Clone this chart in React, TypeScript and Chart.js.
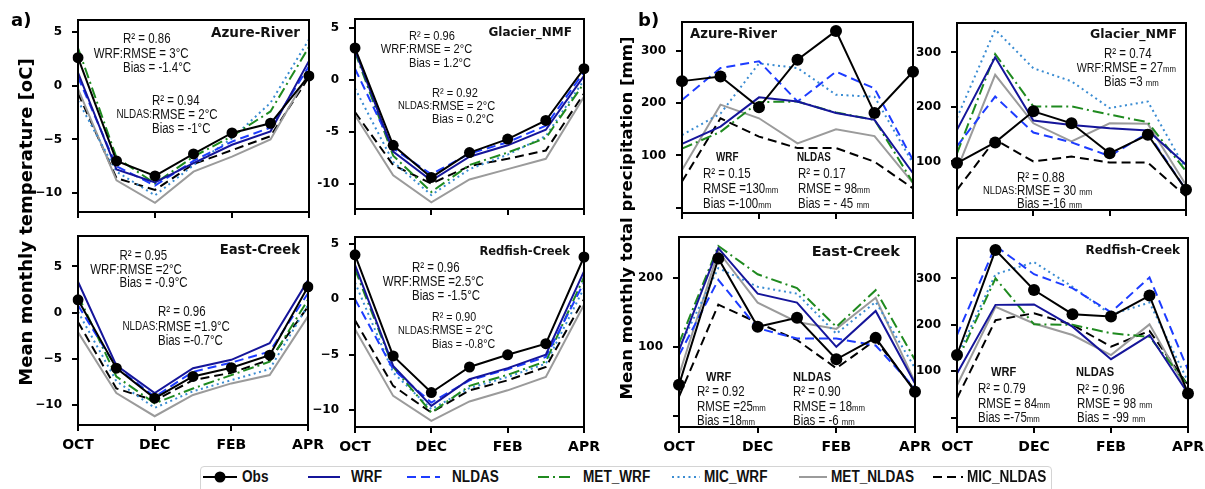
import React, { useEffect, useRef } from 'react';
import { Chart, registerables } from 'chart.js';
Chart.register(...registerables);

// ---------- categories / ticks ----------
const MONTHS = ['OCT', 'NOV', 'DEC', 'JAN', 'FEB', 'MAR', 'APR'];
const SERIES = ['Obs', 'WRF', 'NLDAS', 'MET_WRF', 'MIC_WRF', 'MET_NLDAS', 'MIC_NLDAS'];
const TEMP_TICKS = [-10, -5, 0, 5];
const PRECIP_TICKS = [0, 100, 200, 300];

// ---------- a) temperature [oC] ----------
const azureT_Obs = [2.6, -7.0, -8.4, -6.35, -4.4, -3.5, 0.9];
const azureT_WRF = [1.2, -7.8, -9.0, -7.2, -5.5, -4.25, 2.3];
const azureT_NLDAS = [0.8, -7.5, -9.3, -7.0, -5.2, -3.9, 1.8];
const azureT_MET_WRF = [3.5, -6.7, -9.1, -6.6, -4.7, -2.4, 3.6];
const azureT_MIC_WRF = [-1.4, -8.0, -10.2, -7.4, -4.9, -1.6, 4.3];
const azureT_MET_NLDAS = [-0.3, -8.8, -10.9, -8.0, -6.6, -5.0, 1.2];
const azureT_MIC_NLDAS = [-0.7, -8.6, -9.7, -7.3, -6.0, -4.7, 0.8];

const glacierT_Obs = [3.1, -6.3, -9.4, -7.0, -5.7, -3.9, 1.1];
const glacierT_WRF = [2.9, -6.9, -9.7, -7.4, -6.3, -4.8, 0.4];
const glacierT_NLDAS = [1.1, -6.6, -9.1, -7.1, -6.0, -4.4, 0.8];
const glacierT_MET_WRF = [2.7, -7.3, -10.8, -8.2, -7.0, -5.6, -0.3];
const glacierT_MIC_WRF = [-0.8, -7.9, -11.1, -8.6, -7.2, -5.4, 0.0];
const glacierT_MET_NLDAS = [-3.4, -9.2, -11.8, -9.6, -8.6, -7.6, -1.6];
const glacierT_MIC_NLDAS = [-3.1, -8.2, -10.0, -8.3, -7.6, -6.8, -1.3];

const eastT_Obs = [1.4, -6.0, -9.25, -6.9, -5.95, -4.6, 2.8];
const eastT_WRF = [3.35, -5.7, -8.7, -6.0, -5.1, -3.3, 3.5];
const eastT_NLDAS = [0.8, -5.9, -9.1, -6.4, -5.4, -4.2, 2.1];
const eastT_MET_WRF = [1.9, -6.9, -9.8, -8.2, -6.75, -5.3, 1.4];
const eastT_MIC_WRF = [0.1, -7.4, -10.3, -8.5, -7.3, -6.1, 0.8];
const eastT_MET_NLDAS = [-2.1, -8.7, -11.2, -8.9, -7.65, -6.75, -0.4];
const eastT_MIC_NLDAS = [-1.0, -8.2, -9.5, -7.3, -6.5, -5.1, 0.65];

const redfishT_Obs = [4.0, -5.1, -8.4, -6.1, -5.0, -4.0, 3.8];
const redfishT_WRF = [3.1, -6.0, -9.6, -7.2, -6.2, -5.0, 2.5];
const redfishT_NLDAS = [0.0, -6.3, -9.3, -7.3, -6.3, -5.2, 1.5];
const redfishT_MET_WRF = [2.7, -6.1, -10.2, -7.8, -6.8, -5.6, 2.0];
const redfishT_MIC_WRF = [1.5, -6.6, -9.9, -8.0, -7.0, -5.8, 1.0];
const redfishT_MET_NLDAS = [-2.7, -8.7, -10.95, -9.2, -8.2, -7.0, -0.5];
const redfishT_MIC_NLDAS = [-1.9, -7.8, -10.2, -8.2, -7.3, -6.1, 0.0];

// ---------- b) precipitation [mm] ----------
const azureP_Obs = [242, 251, 192, 283, 338, 181, 260];
const azureP_WRF = [122, 155, 211, 203, 181, 168, 66];
const azureP_NLDAS = [206, 267, 280, 203, 260, 228, 91];
const azureP_MET_WRF = [113, 145, 202, 203, 182, 168, 48];
const azureP_MIC_WRF = [139, 180, 276, 267, 216, 212, 85];
const azureP_MET_NLDAS = [72, 197, 171, 123, 150, 137, 47];
const azureP_MIC_NLDAS = [50, 171, 136, 114, 114, 88, 37];

const glacierP_Obs = [97, 135, 192, 170, 115, 149, 48];
const glacierP_WRF = [158, 291, 175, 167, 161, 157, 94];
const glacierP_NLDAS = [128, 219, 153, 135, 110, 152, 48];
const glacierP_MET_WRF = [115, 297, 201, 201, 186, 172, 82];
const glacierP_MIC_WRF = [180, 342, 271, 247, 198, 210, 85];
const glacierP_MET_NLDAS = [85, 259, 170, 137, 170, 169, 57];
const glacierP_MIC_NLDAS = [48, 140, 100, 109, 98, 98, 36];

const eastP_Obs = [45, 228, 129, 142, 82, 113, 35];
const eastP_WRF = [95, 243, 177, 164, 100, 152, 47];
const eastP_NLDAS = [88, 197, 127, 112, 112, 102, 40];
const eastP_MET_WRF = [105, 246, 205, 185, 129, 182, 81];
const eastP_MIC_WRF = [98, 214, 187, 177, 119, 165, 69];
const eastP_MET_NLDAS = [59, 238, 164, 136, 126, 171, 49];
const eastP_MIC_NLDAS = [28, 161, 135, 110, 69, 110, 37];

const redfishP_Obs = [135, 361, 275, 223, 218, 263, 52];
const redfishP_WRF = [95, 243, 244, 196, 126, 178, 52];
const redfishP_NLDAS = [178, 370, 309, 279, 227, 302, 103];
const redfishP_MET_WRF = [121, 300, 201, 200, 182, 174, 70];
const redfishP_MIC_WRF = [131, 309, 335, 282, 222, 248, 78];
const redfishP_MET_NLDAS = [70, 239, 203, 178, 135, 201, 56];
const redfishP_MIC_NLDAS = [42, 210, 225, 200, 153, 187, 70];

// ---------- styles ----------
const STYLE: Record<string, { color: string; dash: number[] }> = {
  Obs: { color: '#000000', dash: [] },
  WRF: { color: '#15159a', dash: [] },
  NLDAS: { color: '#1d3cff', dash: [9, 5] },
  MET_WRF: { color: '#1f8a1f', dash: [11, 4, 2, 4] },
  MIC_WRF: { color: '#3a8cd2', dash: [2, 3.5] },
  MET_NLDAS: { color: '#9b9b9b', dash: [] },
  MIC_NLDAS: { color: '#000000', dash: [9, 5] },
};

const TICK_FONT = '"DejaVu Sans", sans-serif';
const NARROW_FONT = '"Liberation Sans", Arial, sans-serif';
const NARROW = 0.82;

type Block = {
  x: number; y: number; dy: number; lines: string[]; size?: number;
  prefix?: string; prefixSize?: number; header?: string; hx?: number; hy?: number; hsize?: number;
};
type Panel = {
  id: string; left: number; top: number; right: number; bottom: number;
  yMin: number; yMax: number; yTicks: number[]; showX: boolean; precip: boolean; minus: string;
  series: number[][]; markerR: number;
  title: string; titleX: number; titleY: number; titleAlign: 'left' | 'right'; titleSize: number;
  blocks: Block[];
};

const PANELS: Panel[] = [
  {
    id: 'a1', left: 78, top: 20, right: 309, bottom: 212, yMin: -11.75, yMax: 6.1, yTicks: TEMP_TICKS,
    showX: false, precip: false, minus: '\u2212', markerR: 5.5,
    series: [azureT_Obs, azureT_WRF, azureT_NLDAS, azureT_MET_WRF, azureT_MIC_WRF, azureT_MET_NLDAS, azureT_MIC_NLDAS],
    title: 'Azure-River', titleX: 222, titleY: 13, titleAlign: 'right', titleSize: 13.5,
    blocks: [
      { x: 45, y: 18, dy: 14.5, lines: ['R\u00b2 = 0.86', 'RMSE = 3\u00b0C', 'Bias = -1.4\u00b0C'], prefix: 'WRF:' },
      { x: 74, y: 80, dy: 14, lines: ['R\u00b2 = 0.94', 'RMSE = 2\u00b0C', 'Bias = -1\u00b0C'], prefix: 'NLDAS:', prefixSize: 12 },
    ],
  },
  {
    id: 'a2', left: 355, top: 19, right: 584, bottom: 208.5, yMin: -12.45, yMax: 5.9, yTicks: TEMP_TICKS,
    showX: false, precip: false, minus: '-', markerR: 5.5,
    series: [glacierT_Obs, glacierT_WRF, glacierT_NLDAS, glacierT_MET_WRF, glacierT_MIC_WRF, glacierT_MET_NLDAS, glacierT_MIC_NLDAS],
    title: 'Glacier_NMF', titleX: 217, titleY: 14, titleAlign: 'right', titleSize: 12,
    blocks: [
      { x: 54, y: 16, dy: 13.5, size: 13.5, lines: ['R\u00b2 = 0.96', 'RMSE = 2\u00b0C', 'Bias = 1.2\u00b0C'], prefix: 'WRF:' },
      { x: 77, y: 73, dy: 13, size: 13.5, lines: ['R\u00b2 = 0.92', 'RMSE = 2\u00b0C', 'Bias = 0.2\u00b0C'], prefix: 'NLDAS:', prefixSize: 11.5 },
    ],
  },
  {
    id: 'a3', left: 78, top: 236, right: 308, bottom: 425, yMin: -12.15, yMax: 8.3, yTicks: TEMP_TICKS,
    showX: true, precip: false, minus: '\u2212', markerR: 5.5,
    series: [eastT_Obs, eastT_WRF, eastT_NLDAS, eastT_MET_WRF, eastT_MIC_WRF, eastT_MET_NLDAS, eastT_MIC_NLDAS],
    title: 'East-Creek', titleX: 222, titleY: 15, titleAlign: 'right', titleSize: 13.2,
    blocks: [
      { x: 41.5, y: 19, dy: 13.5, lines: ['R\u00b2 = 0.95', 'RMSE =2\u00b0C', 'Bias = -0.9\u00b0C'], prefix: 'WRF:' },
      { x: 80, y: 75, dy: 14.5, lines: ['R\u00b2 = 0.96', 'RMSE =1.9\u00b0C', 'Bias =-0.7\u00b0C'], prefix: 'NLDAS:', prefixSize: 12 },
    ],
  },
  {
    id: 'a4', left: 355, top: 237, right: 584, bottom: 427, yMin: -11.5, yMax: 5.6, yTicks: TEMP_TICKS,
    showX: true, precip: false, minus: '\u2212', markerR: 5.5,
    series: [redfishT_Obs, redfishT_WRF, redfishT_NLDAS, redfishT_MET_WRF, redfishT_MIC_WRF, redfishT_MET_NLDAS, redfishT_MIC_NLDAS],
    title: 'Redfish-Creek', titleX: 215, titleY: 15, titleAlign: 'right', titleSize: 11.5,
    blocks: [
      { x: 57, y: 30, dy: 14, lines: ['R\u00b2 = 0.96', 'RMSE =2.5\u00b0C', 'Bias = -1.5\u00b0C'], prefix: 'WRF:' },
      { x: 77, y: 79, dy: 13.5, size: 13, lines: ['R\u00b2 = 0.90', 'RMSE = 2\u00b0C', 'Bias = -0.8\u00b0C'], prefix: 'NLDAS:', prefixSize: 11.5 },
    ],
  },
  {
    id: 'b1', left: 682, top: 22, right: 913, bottom: 213, yMin: -10, yMax: 355, yTicks: PRECIP_TICKS,
    showX: false, precip: true, minus: '\u2212', markerR: 6,
    series: [azureP_Obs, azureP_WRF, azureP_NLDAS, azureP_MET_WRF, azureP_MIC_WRF, azureP_MET_NLDAS, azureP_MIC_NLDAS],
    title: 'Azure-River', titleX: 8, titleY: 13, titleAlign: 'left', titleSize: 13.2,
    blocks: [
      { x: 21, y: 151, dy: 15, lines: ['R\u00b2 = 0.15', 'RMSE =130|mm', 'Bias =-100|mm'], header: 'WRF', hx: 34, hy: 135, hsize: 12 },
      { x: 116, y: 151, dy: 15, lines: ['R\u00b2 = 0.17', 'RMSE = 98|mm', 'Bias = - 45 |mm'], header: 'NLDAS', hx: 115, hy: 135, hsize: 12 },
    ],
  },
  {
    id: 'b2', left: 957, top: 23, right: 1186, bottom: 210, yMin: 11, yMax: 354, yTicks: PRECIP_TICKS,
    showX: false, precip: true, minus: '\u2212', markerR: 6,
    series: [glacierP_Obs, glacierP_WRF, glacierP_NLDAS, glacierP_MET_WRF, glacierP_MIC_WRF, glacierP_MET_NLDAS, glacierP_MIC_NLDAS],
    title: 'Glacier_NMF', titleX: 220, titleY: 12, titleAlign: 'right', titleSize: 12.5,
    blocks: [
      { x: 147, y: 30, dy: 14, lines: ['R\u00b2 = 0.74', 'RMSE = 27|mm', 'Bias =3 |mm'], prefix: 'WRF:', prefixSize: 13 },
      { x: 60, y: 154, dy: 13, lines: ['R\u00b2 = 0.88', 'RMSE = 30 |mm', 'Bias =-16 |mm'], prefix: 'NLDAS:', prefixSize: 11.5 },
    ],
  },
  {
    id: 'b3', left: 679, top: 237, right: 915, bottom: 427, yMin: -16, yMax: 259, yTicks: PRECIP_TICKS,
    showX: true, precip: true, minus: '\u2212', markerR: 6,
    series: [eastP_Obs, eastP_WRF, eastP_NLDAS, eastP_MET_WRF, eastP_MIC_WRF, eastP_MET_NLDAS, eastP_MIC_NLDAS],
    title: 'East-Creek', titleX: 221, titleY: 15, titleAlign: 'right', titleSize: 14.5,
    blocks: [
      { x: 18, y: 154, dy: 14.5, lines: ['R\u00b2 = 0.92', 'RMSE =25|mm', 'Bias =18|mm'], header: 'WRF', hx: 27, hy: 139, hsize: 13.5 },
      { x: 114, y: 154, dy: 14.5, lines: ['R\u00b2 = 0.90', 'RMSE = 18|mm', 'Bias = -6 |mm'], header: 'NLDAS', hx: 114, hy: 139, hsize: 13.5 },
    ],
  },
  {
    id: 'b4', left: 957, top: 238, right: 1188, bottom: 427, yMin: -20, yMax: 387, yTicks: PRECIP_TICKS,
    showX: true, precip: true, minus: '\u2212', markerR: 6,
    series: [redfishP_Obs, redfishP_WRF, redfishP_NLDAS, redfishP_MET_WRF, redfishP_MIC_WRF, redfishP_MET_NLDAS, redfishP_MIC_NLDAS],
    title: 'Redfish-Creek', titleX: 223, titleY: 13, titleAlign: 'right', titleSize: 12,
    blocks: [
      { x: 21, y: 150, dy: 14.5, lines: ['R\u00b2 = 0.79', 'RMSE = 84|mm', 'Bias =-75|mm'], header: 'WRF', hx: 34, hy: 133, hsize: 13.5 },
      { x: 120, y: 151, dy: 14, lines: ['R\u00b2 = 0.96', 'RMSE = 98 |mm', 'Bias = -99 |mm'], header: 'NLDAS', hx: 119, hy: 133, hsize: 13.5 },
    ],
  },
];

// draw text with "|small|" segments, horizontally condensed; y = visual center of caps
function drawRich(ctx: CanvasRenderingContext2D, text: string, x: number, y: number, size: number, align: 'left' | 'right', weight = 'normal') {
  const parts = text.split('|');
  const fonts = parts.map((_, i) => `${weight} ${i % 2 ? size * 0.68 : size}px ${NARROW_FONT}`);
  const widths = parts.map((t, i) => { ctx.font = fonts[i]; return ctx.measureText(t).width * NARROW; });
  const total = widths.reduce((a, b) => a + b, 0);
  let cx = align === 'right' ? x - total : x;
  const base = y + size * 0.36;
  ctx.textBaseline = 'alphabetic';
  ctx.textAlign = 'left';
  parts.forEach((t, i) => {
    ctx.font = fonts[i];
    ctx.save();
    ctx.translate(cx, base);
    ctx.scale(NARROW, 1);
    ctx.fillText(t, 0, 0);
    ctx.restore();
    cx += widths[i];
  });
}

function makeOverlay(p: Panel) {
  return {
    id: 'overlay_' + p.id,
    afterDraw(chart: any) {
      const { ctx, chartArea: a } = chart;
      ctx.save();
      ctx.fillStyle = '#111';
      p.blocks.forEach((b) => {
        const size = b.size || 14;
        b.lines.forEach((ln, i) => drawRich(ctx, ln, a.left + b.x, a.top + b.y + i * b.dy, size, 'left'));
        if (b.prefix) drawRich(ctx, b.prefix, a.left + b.x, a.top + b.y + b.dy, b.prefixSize || size, 'right');
        if (b.header) drawRich(ctx, b.header, a.left + (b.hx || 0), a.top + (b.hy || 0), b.hsize || 12, 'left', 'bold');
      });
      ctx.fillStyle = '#111';
      ctx.font = `bold ${p.titleSize}px ${TICK_FONT}`;
      ctx.textAlign = p.titleAlign;
      ctx.textBaseline = 'middle';
      ctx.fillText(p.title, a.left + p.titleX, a.top + p.titleY);
      ctx.strokeStyle = '#000';
      ctx.lineWidth = 2;
      ctx.strokeRect(a.left, a.top, a.right - a.left, a.bottom - a.top);
      ctx.restore();
    },
  };
}

function PanelChart({ p }: { p: Panel }) {
  const ref = useRef<HTMLCanvasElement>(null);
  const LP = 56, TP = 6, RP = 24, BP = p.showX ? 32 : 12;
  const W = Math.round(p.right - p.left) + LP + RP;
  const H = Math.round(p.bottom - p.top) + TP + BP;
  useEffect(() => {
    const grid = { display: true, drawOnChartArea: false, drawTicks: true, tickLength: 6, lineWidth: 2, color: '#000' };
    const chart = new Chart(ref.current as HTMLCanvasElement, {
      type: 'line',
      data: {
        labels: MONTHS,
        datasets: SERIES.map((name, i) => ({
          label: name,
          data: p.series[i],
          borderColor: STYLE[name].color,
          backgroundColor: STYLE[name].color,
          borderWidth: 2,
          borderDash: STYLE[name].dash,
          pointRadius: name === 'Obs' ? p.markerR : 0,
          pointBackgroundColor: '#000',
          pointBorderColor: '#000',
          pointBorderWidth: 0,
          fill: false,
          tension: 0,
        })),
      },
      options: {
        responsive: false,
        animation: false,
        events: [],
        layout: { padding: { left: 0, top: TP, right: RP, bottom: 0 } },
        plugins: { legend: { display: false }, tooltip: { enabled: false } },
        scales: {
          x: {
            type: 'category',
            offset: false,
            grid,
            border: { display: false },
            ticks: {
              autoSkip: false, maxRotation: 0, minRotation: 0, padding: 6, color: '#000',
              font: { family: TICK_FONT, weight: 'bold', size: 14 },
              callback: (v: any) => (p.showX ? MONTHS[v as number] : ''),
            },
            afterBuildTicks: (s: any) => { s.ticks = s.ticks.filter((t: any) => t.value % 2 === 0); },
            afterFit: (s: any) => { s.height = BP; s.paddingLeft = 0; s.paddingRight = 0; },
          },
          y: {
            type: 'linear',
            min: p.yMin,
            max: p.yMax,
            grid,
            border: { display: false },
            ticks: {
              padding: 10, color: '#000',
              font: { family: TICK_FONT, weight: 'bold', size: 12 },
              callback: (v: any) => {
                const n = Number(v);
                if (p.precip && n === 0) return '';
                return n < 0 ? p.minus + Math.abs(n) : String(n);
              },
            },
            afterBuildTicks: (s: any) => {
              s.ticks = p.yTicks.filter((v) => v >= p.yMin && v <= p.yMax).map((v) => ({ value: v }));
            },
            afterFit: (s: any) => { s.width = LP; s.paddingTop = 0; s.paddingBottom = 0; },
          },
        },
      } as any,
      plugins: [makeOverlay(p)],
    });
    return () => chart.destroy();
  }, []);
  return (
    <canvas
      ref={ref}
      width={W}
      height={H}
      style={{ position: 'absolute', left: p.left - LP, top: p.top - TP, width: W, height: H }}
    />
  );
}

const LEGEND_ITEMS = [
  { name: 'Obs', x1: 203, x2: 237, tx: 242 },
  { name: 'WRF', x1: 308, x2: 340, tx: 351 },
  { name: 'NLDAS', x1: 407, x2: 440, tx: 452 },
  { name: 'MET_WRF', x1: 538, x2: 571, tx: 583 },
  { name: 'MIC_WRF', x1: 672, x2: 700, tx: 704 },
  { name: 'MET_NLDAS', x1: 799, x2: 827, tx: 831 },
  { name: 'MIC_NLDAS', x1: 933, x2: 963, tx: 967 },
];

function Legend() {
  return (
    <>
      <div style={{ position: 'absolute', left: 200, top: 466, width: 852, height: 32, border: '1px solid #d4d4d4', borderRadius: 4, boxSizing: 'border-box', background: '#fff' }} />
      {LEGEND_ITEMS.map((it) => {
        const w = it.x2 - it.x1;
        return (
          <React.Fragment key={it.name}>
            <svg style={{ position: 'absolute', left: it.x1, top: 469.5, overflow: 'visible' }} width={w} height={14}>
              <line x1={0} y1={7} x2={w} y2={7} stroke={STYLE[it.name].color} strokeWidth={2}
                strokeDasharray={STYLE[it.name].dash.length ? STYLE[it.name].dash.join(' ') : undefined} />
              {it.name === 'Obs' && <circle cx={w / 2} cy={7} r={5.5} fill="#000" />}
            </svg>
            <span style={{
              position: 'absolute', left: it.tx, top: 467, lineHeight: '20px', fontSize: 16, fontWeight: 'bold',
              fontFamily: NARROW_FONT, whiteSpace: 'nowrap', transform: 'scaleX(0.85)', transformOrigin: 'left center', color: '#111',
            }}>{it.name}</span>
          </React.Fragment>
        );
      })}
    </>
  );
}

export default function App() {
  return (
    <div style={{ position: 'absolute', left: 0, top: 0, width: 1205, height: 489, overflow: 'hidden', background: '#fff' }}>
      {PANELS.map((p) => <PanelChart key={p.id} p={p} />)}
      <div style={{ position: 'absolute', left: 11, top: 10, fontFamily: TICK_FONT, fontWeight: 'bold', fontSize: 18, lineHeight: '20px' }}>a)</div>
      <div style={{ position: 'absolute', left: 638, top: 10, fontFamily: TICK_FONT, fontWeight: 'bold', fontSize: 18, lineHeight: '20px' }}>b)</div>
      <div style={{
        position: 'absolute', left: 26, top: 222, transform: 'translate(-50%, -50%) rotate(-90deg)',
        whiteSpace: 'nowrap', fontFamily: TICK_FONT, fontWeight: 'bold', fontSize: 18, lineHeight: '22px',
      }}>Mean monthly temperature [oC]</div>
      <div style={{
        position: 'absolute', left: 627, top: 218, transform: 'translate(-50%, -50%) rotate(-90deg)',
        whiteSpace: 'nowrap', fontFamily: TICK_FONT, fontWeight: 'bold', fontSize: 16.5, lineHeight: '20px',
      }}>Mean monthly total precipitation [mm]</div>
      <Legend />
    </div>
  );
}
